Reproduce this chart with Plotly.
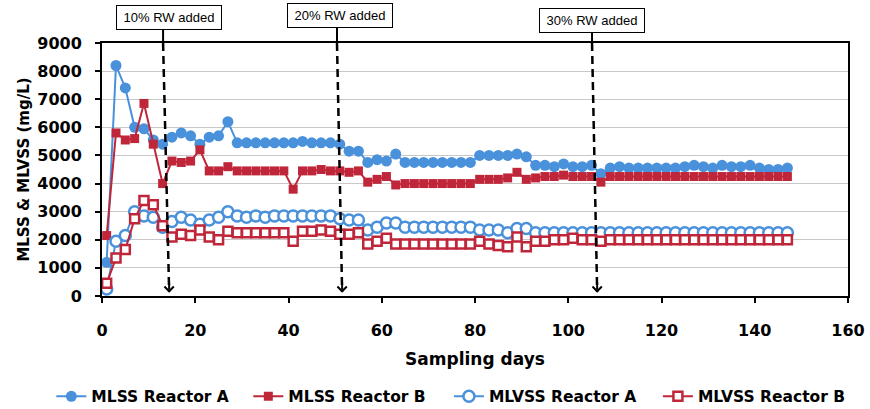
import plotly.graph_objects as go

days = list(range(1, 148, 2))

mlss_a = [1200, 8200, 7400, 6000, 5950, 5550, 5400, 5650, 5800, 5700,
          5400, 5650, 5700, 6200, 5450, 5450, 5450, 5450, 5450, 5450,
          5450, 5500, 5450, 5450, 5450, 5400, 5150, 5150, 4750, 4850,
          4800, 5050, 4750, 4750, 4750, 4750, 4750, 4750, 4750, 4750,
          5000, 5000, 5000, 5000, 5050, 4950, 4650, 4650, 4600, 4700,
          4600, 4600, 4650, 4350, 4550, 4600, 4550, 4550, 4550, 4550,
          4550, 4550, 4600, 4650, 4600, 4550, 4650, 4600, 4600, 4650,
          4550, 4500, 4500, 4550]

mlss_b = [2150, 5800, 5550, 5600, 6850, 5400, 4000, 4800, 4750, 4800,
          5200, 4450, 4450, 4600, 4450, 4450, 4450, 4450, 4450, 4450,
          3800, 4450, 4450, 4500, 4450, 4450, 4400, 4450, 4050, 4150,
          4250, 3950, 4000, 4000, 4000, 4000, 4000, 4000, 4000, 4000,
          4150, 4150, 4150, 4200, 4400, 4150, 4200, 4250, 4250, 4300,
          4250, 4250, 4250, 4050, 4250, 4250, 4250, 4250, 4250, 4250,
          4250, 4250, 4250, 4250, 4250, 4250, 4250, 4250, 4250, 4250,
          4250, 4250, 4250, 4250]

mlvss_a = [250, 1950, 2150, 3000, 2850, 2800, 2450, 2650, 2800, 2700,
           2550, 2700, 2800, 3000, 2850, 2800, 2850, 2800, 2850, 2850,
           2850, 2850, 2850, 2850, 2850, 2750, 2700, 2700, 2350, 2450,
           2600, 2600, 2450, 2450, 2450, 2450, 2450, 2450, 2450, 2450,
           2350, 2350, 2350, 2250, 2400, 2400, 2250, 2250, 2250, 2250,
           2250, 2250, 2250, 2250, 2250, 2250, 2250, 2250, 2250, 2250,
           2250, 2250, 2250, 2250, 2250, 2250, 2250, 2250, 2250, 2250,
           2250, 2250, 2250, 2250]

mlvss_b = [450, 1350, 1650, 2750, 3400, 3250, 2500, 2100, 2200, 2150,
           2350, 2100, 2000, 2300, 2250, 2250, 2250, 2250, 2250, 2250,
           1950, 2300, 2300, 2350, 2300, 2200, 2200, 2250, 1850, 1950,
           2050, 1850, 1850, 1850, 1850, 1850, 1850, 1850, 1850, 1850,
           1950, 1850, 1800, 1750, 2100, 1750, 1950, 1950, 2000, 2000,
           2050, 2000, 2000, 1950, 2000, 2000, 2000, 2000, 2000, 2000,
           2000, 2000, 2000, 2000, 2000, 2000, 2000, 2000, 2000, 2000,
           2000, 2000, 2000, 2000]

event_labels = ["10% RW added", "20% RW added", "30% RW added"]
event_top_days = [13.1, 50.4, 105.1]
event_bottom_days = [14.4, 51.5, 106.2]
box_days = [14.4, 51.0, 105.2]
box_y = [1.100, 1.110, 1.088]

BLUE = "#4A91DB"
RED = "#C0263A"
FONT = "DejaVu Sans"

fig = go.Figure()
fig.add_trace(go.Scatter(x=days, y=mlss_a, name="MLSS Reactor A", mode="lines+markers",
                         line=dict(color=BLUE, width=2), legend="legend",
                         marker=dict(symbol="circle", size=11, color=BLUE)))
fig.add_trace(go.Scatter(x=days, y=mlss_b, name="MLSS Reactor B", mode="lines+markers",
                         line=dict(color=RED, width=2), legend="legend",
                         marker=dict(symbol="square", size=9, color=RED)))
fig.add_trace(go.Scatter(x=days, y=mlvss_a, name="MLVSS Reactor A", mode="lines+markers",
                         line=dict(color=BLUE, width=2), legend="legend2",
                         marker=dict(symbol="circle", size=11, color="white",
                                     line=dict(color=BLUE, width=2.5))))
fig.add_trace(go.Scatter(x=days, y=mlvss_b, name="MLVSS Reactor B", mode="lines+markers",
                         line=dict(color=RED, width=2), legend="legend2",
                         marker=dict(symbol="square", size=9, color="white",
                                     line=dict(color=RED, width=2.5))))

shapes = []
annotations = []
for lab, t, b, bx, by in zip(event_labels, event_top_days, event_bottom_days, box_days, box_y):
    shapes.append(dict(type="line", xref="x", yref="y", x0=t, y0=9000, x1=b, y1=150,
                       line=dict(color="black", width=2.5, dash="8px,5px")))
    shapes.append(dict(type="line", xref="x", yref="paper", x0=t, y0=1.0, x1=t, y1=by - 0.045,
                       line=dict(color="black", width=2)))
    annotations.append(dict(x=b, y=120, xref="x", yref="y", ax=0, ay=-12,
                            showarrow=True, arrowhead=4, arrowsize=0.9, arrowwidth=2,
                            arrowcolor="black", text=""))
    annotations.append(dict(x=bx, y=by, xref="x", yref="paper", text=lab, showarrow=False,
                            font=dict(family="Liberation Sans", size=13, color="black"),
                            bgcolor="white", bordercolor="black", borderwidth=1,
                            width=100, height=19, borderpad=2, xanchor="center", yanchor="middle"))

legend_common = dict(orientation="h", xref="container", xanchor="left",
                     yref="container", y=0.03, yanchor="middle",
                     font=dict(family=FONT, size=15.5, color="black", weight="bold"),
                     itemwidth=30, tracegroupgap=0, entrywidthmode="pixels")

fig.update_layout(
    width=870, height=409,
    margin=dict(l=102, r=22, t=43, b=113, autoexpand=False),
    paper_bgcolor="white", plot_bgcolor="white",
    font=dict(family=FONT, color="black"),
    showlegend=True,
    legend=dict(x=0.059, entrywidth=152, **legend_common),
    legend2=dict(x=0.516, entrywidth=164, **legend_common),
    shapes=shapes,
    annotations=annotations,
)
fig.update_xaxes(range=[0, 160], dtick=20, tick0=0, showgrid=False, zeroline=False,
                 showline=True, linecolor="black", linewidth=2, mirror=True,
                 ticks="outside", ticklen=5, tickwidth=2, tickcolor="black",
                 ticklabelstandoff=14,
                 tickfont=dict(family=FONT, size=16, color="black", weight="bold"),
                 title=dict(text="Sampling days", standoff=14,
                            font=dict(family=FONT, size=17, color="black", weight="bold")))
fig.update_yaxes(range=[0, 9000], dtick=1000, tick0=0, showgrid=True, gridcolor="#C8C8C8",
                 gridwidth=1, zeroline=False,
                 showline=True, linecolor="black", linewidth=2, mirror=True,
                 ticks="outside", ticklen=5, tickwidth=2, tickcolor="black",
                 ticklabelstandoff=10,
                 tickfont=dict(family=FONT, size=16, color="black", weight="bold"),
                 title=dict(text="MLSS & MLVSS (mg/L)", standoff=4,
                            font=dict(family=FONT, size=15, color="black", weight="bold")))

fig.write_html("out.html")
